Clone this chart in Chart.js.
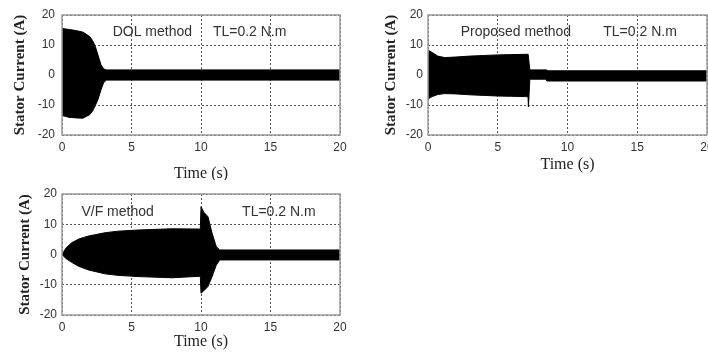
<!DOCTYPE html>
<html>
<head>
<meta charset="utf-8">
<script src="https://cdn.jsdelivr.net/npm/chart.js@4/dist/chart.umd.min.js"></script>
<style>
  html, body { margin: 0; padding: 0; background: #fff; }
  #wrap { position: relative; width: 708px; height: 356px; overflow: hidden; }
  canvas { position: absolute; }
</style>
</head>
<body>
<div id="wrap">
  <canvas id="dol" width="350" height="180" style="left:0;top:0"></canvas>
  <canvas id="prop" width="348" height="180" style="left:360px;top:0"></canvas>
  <canvas id="vf" width="350" height="176" style="left:0;top:180px"></canvas>
</div>
<script>
// envelope of the stator current (upper / lower peaks)
const dolTime  = [0, 0.5, 1, 1.5, 2, 2.2, 2.4, 2.6, 2.8, 3.0, 3.2, 20];
const dolUpper = [15.5, 15.2, 14.8, 14.3, 12.8, 11.5, 9.5, 6.5, 3.5, 2.0, 1.7, 1.7];
const dolLower = [-13.5, -14.1, -14.3, -14.4, -13.2, -12, -10.2, -8, -5, -2.5, -1.7, -1.7];

const propTime  = [0, 0.3, 0.7, 1.2, 2, 3, 4, 5, 6, 7, 7.18, 7.2, 7.3, 8.5, 8.52, 20];
const propUpper = [8.3, 7.5, 6.3, 5.8, 6, 6.3, 6.5, 6.7, 6.8, 6.9, 6.9, 6.9, 1.7, 1.7, 1.4, 1.4];
const propLower = [-8, -7.2, -6.5, -6.2, -6.3, -6.6, -6.8, -7, -7.1, -7.2, -7.3, -10.6, -1.4, -1.4, -2, -2];

const vfTime  = [0, 0.3, 0.7, 1.2, 1.9, 3.1, 4, 5.5, 7.9, 9.95, 10, 10.2, 10.5, 10.8, 11.1, 11.35, 20];
const vfUpper = [0, 2.2, 3.9, 5.1, 6.1, 7.2, 7.7, 8.1, 8.5, 8.4, 15.8, 14, 12.5, 7, 2.6, 1.5, 1.5];
const vfLower = [0, -1.4, -2.6, -3.9, -5.1, -6.4, -6.9, -7.3, -7.7, -7.2, -12.8, -12, -10.6, -7.3, -3.5, -1.8, -1.8];

const xTicks = [0, 5, 10, 15, 20];
const yTicks = [-20, -10, 0, 10, 20];

const dolNotes  = [['DOL method', 6.5, 14.3], ['TL=0.2 N.m', 13.5, 14.3]];
const propNotes = [['Proposed method', 6.3, 14.3], ['TL=0.2 N.m', 15.2, 14.3]];
const vfNotes   = [['V/F method', 4.0, 13.9], ['TL=0.2 N.m', 15.6, 13.9]];

Chart.defaults.font.family = '"Liberation Sans", Arial, sans-serif';
Chart.defaults.color = '#333';

// frame around plot area + text notes
const framePlugin = {
  id: 'frame',
  afterDatasetsDraw(chart, args, opts) {
    const { ctx, chartArea: a, scales } = chart;
    ctx.save();
    ctx.strokeStyle = '#9a9a9a';
    ctx.lineWidth = 1.5;
    ctx.strokeRect(a.left, a.top, a.right - a.left, a.bottom - a.top);
    ctx.fillStyle = '#333';
    ctx.font = '14px "Liberation Sans", Arial, sans-serif';
    ctx.textAlign = 'center';
    ctx.textBaseline = 'middle';
    (opts.notes || []).forEach(([txt, t, v]) => {
      ctx.fillText(txt, scales.x.getPixelForValue(t), scales.y.getPixelForValue(v));
    });
    ctx.restore();
  }
};

function makePanel(id, time, upper, lower, notes, g) {
  const pts = (arr) => time.map((t, i) => ({ x: t, y: arr[i] }));
  return new Chart(document.getElementById(id), {
    type: 'line',
    data: {
      datasets: [
        { data: pts(upper), borderColor: '#000', backgroundColor: '#000', borderWidth: 1,
          pointRadius: 0, fill: '+1', tension: 0 },
        { data: pts(lower), borderColor: '#000', backgroundColor: '#000', borderWidth: 1,
          pointRadius: 0, fill: false, tension: 0 }
      ]
    },
    options: {
      responsive: false,
      animation: false,
      events: [],
      layout: { padding: g.pad, autoPadding: false },
      plugins: { legend: { display: false }, tooltip: { enabled: false }, frame: { notes } },
      scales: {
        x: {
          type: 'linear', min: 0, max: 20,
          afterBuildTicks: (s) => { s.ticks = xTicks.map((v) => ({ value: v })); },
          afterFit: (s) => { s.height = g.xH; s.paddingLeft = 0; s.paddingRight = 0; },
          ticks: { padding: g.xTickPad, maxRotation: 0, font: { size: 12 } },
          grid: { color: '#555', drawTicks: false, lineWidth: 1 },
          border: { display: false, dash: [2, 2] },
          title: {
            display: true, text: 'Time (s)', color: '#222',
            font: { family: '"Liberation Serif", "Times New Roman", serif', size: 16, lineHeight: 1 },
            padding: { top: 0, bottom: g.xTitlePad }
          }
        },
        y: {
          min: -20, max: 20,
          afterBuildTicks: (s) => { s.ticks = yTicks.map((v) => ({ value: v })); },
          afterFit: (s) => { s.width = g.yW; s.paddingTop = 0; s.paddingBottom = 0; },
          ticks: { padding: g.yTickPad, font: { size: 12 } },
          grid: { color: '#555', drawTicks: false, lineWidth: 1 },
          border: { display: false, dash: [2, 2] },
          title: {
            display: true, text: 'Stator Current (A)', color: '#222',
            font: { family: '"Liberation Serif", "Times New Roman", serif', size: 15, weight: 'bold', lineHeight: 1 },
            padding: { top: g.yTitlePad, bottom: 0 }
          }
        }
      }
    },
    plugins: [framePlugin]
  });
}

makePanel('dol', dolTime, dolUpper, dolLower, dolNotes,
  { pad: { left: 0, top: 15, right: 10, bottom: 0 }, xH: 45, yW: 62, xTickPad: 5, yTickPad: 7, xTitlePad: -2, yTitlePad: 13 });
makePanel('prop', propTime, propUpper, propLower, propNotes,
  { pad: { left: 0, top: 15, right: 1, bottom: 0 }, xH: 45, yW: 68, xTickPad: 5, yTickPad: 5, xTitlePad: 7, yTitlePad: 24 });
makePanel('vf', vfTime, vfUpper, vfLower, vfNotes,
  { pad: { left: 0, top: 14, right: 10, bottom: 0 }, xH: 41, yW: 62, xTickPad: 5, yTickPad: 5, xTitlePad: 6, yTitlePad: 18 });
</script>
</body>
</html>
